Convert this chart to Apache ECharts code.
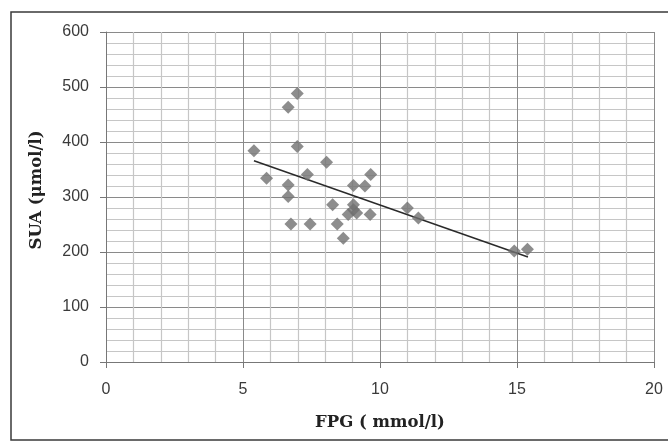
<!DOCTYPE html>
<html>
<head>
<meta charset="utf-8">
<script src="https://cdn.jsdelivr.net/npm/echarts@6/dist/echarts.min.js"></script>
<style>html,body{margin:0;padding:0;background:#fff}#c{width:668px;height:441px}</style>
</head>
<body>
<div id="c"></div>
<script>
var fpg = [5.40, 5.86, 6.65, 6.98, 6.98, 6.65, 6.65, 6.75, 7.35, 7.45, 8.05, 8.27, 8.44, 8.66, 9.03, 9.45, 9.66, 9.03, 8.84, 9.15, 9.03, 9.64, 11.0, 11.4, 14.9, 15.38];
var sua = [384, 334, 463, 488, 392, 322, 301, 251, 341, 251, 363, 286, 251, 225, 321, 320, 341, 286, 268, 271, 277, 268, 280, 262, 202, 205];
var trendX = [5.4, 15.4];
var trendY = [366, 191];
var xTicks = [0, 5, 10, 15, 20];
var yTicks = [0, 100, 200, 300, 400, 500, 600];

var points = fpg.map(function (x, i) { return [x, sua[i]]; });
var trend = trendX.map(function (x, i) { return [x, trendY[i]]; });

var chart = echarts.init(document.getElementById('c'));
chart.setOption({
  animation: false,
  backgroundColor: '#fff',
  graphic: [{
    type: 'rect',
    shape: { x: 11, y: 12, width: 680, height: 428 },
    style: { fill: 'none', stroke: '#3a3a3a', lineWidth: 1.5 },
    silent: true
  }],
  grid: { left: 106, right: 14, top: 32, bottom: 79 },
  xAxis: {
    type: 'value',
    min: xTicks[0], max: xTicks[xTicks.length - 1], interval: 5,
    name: 'FPG ( mmol/l)',
    nameLocation: 'middle', nameGap: 52,
    nameTextStyle: { fontFamily: 'DejaVu Serif', fontWeight: 'bold', fontSize: 16.5, color: '#222' },
    axisLine: { show: true, onZero: false, lineStyle: { color: '#777', width: 1 } },
    axisTick: { show: true, length: 6, inside: false, lineStyle: { color: '#777' } },
    axisLabel: { margin: 20, fontFamily: 'Liberation Sans', fontSize: 16, color: '#3a3a3a' },
    splitLine: { show: true, lineStyle: { color: '#8a8a8a', width: 1 } },
    minorTick: { show: false, splitNumber: 5 },
    minorSplitLine: { show: true, lineStyle: { color: '#c6c6c6', width: 1.2 } }
  },
  yAxis: {
    type: 'value',
    min: yTicks[0], max: yTicks[yTicks.length - 1], interval: 100,
    name: 'SUA (μmol/l)',
    nameLocation: 'middle', nameGap: 61,
    nameTextStyle: { fontFamily: 'DejaVu Serif', fontWeight: 'bold', fontSize: 16.5, color: '#222', padding: [0, 0, 0, 14] },
    axisLine: { show: true, onZero: false, lineStyle: { color: '#777', width: 1 } },
    axisTick: { show: true, length: 6, inside: false, lineStyle: { color: '#777' } },
    axisLabel: { margin: 17, fontFamily: 'Liberation Sans', fontSize: 16, color: '#3a3a3a' },
    splitLine: { show: true, lineStyle: { color: '#8a8a8a', width: 1 } },
    minorTick: { show: false, splitNumber: 5 },
    minorSplitLine: { show: true, lineStyle: { color: '#c6c6c6', width: 1.2 } }
  },
  series: [
    {
      type: 'line',
      data: trend,
      symbol: 'none',
      lineStyle: { color: '#2a2a2a', width: 1.5 },
      z: 3
    },
    {
      type: 'scatter',
      data: points,
      symbol: 'diamond',
      symbolSize: 13,
      itemStyle: { color: '#707070' },
      z: 4
    }
  ]
});
</script>
</body>
</html>
